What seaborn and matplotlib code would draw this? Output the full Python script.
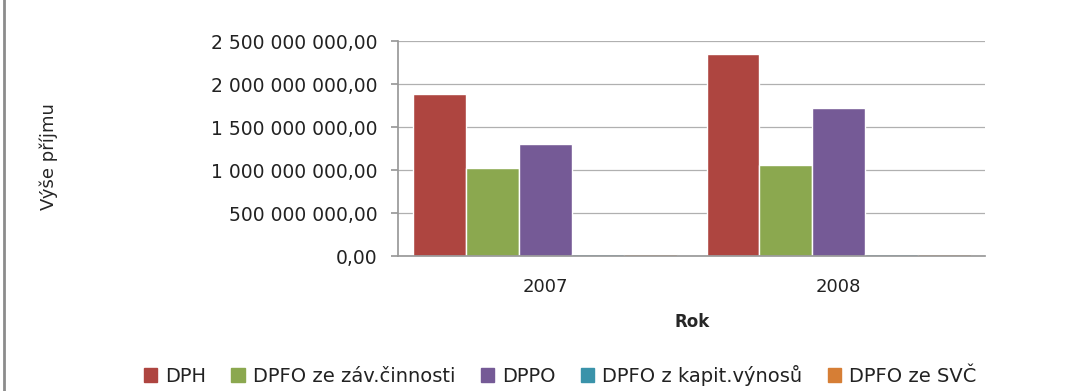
import pandas as pd
import matplotlib
matplotlib.use("Agg")
import matplotlib.pyplot as plt
import seaborn as sns
from matplotlib.ticker import FuncFormatter
from matplotlib.patches import Rectangle

# Data (values in CZK)
years = ["2007", "2008"]
dph = [1.88e9, 2.35e9]
dpfo_zav = [1.02e9, 1.06e9]
dppo = [1.30e9, 1.72e9]
dpfo_kap = [0.03e9, 0.03e9]
dpfo_svc = [0.02e9, 0.02e9]

series = ["DPH", "DPFO ze záv.činnosti", "DPPO", "DPFO z kapit.výnosů", "DPFO ze SVČ"]
colors = ["#AE4540", "#8BA84F", "#755A96", "#3A93AA", "#D67E35"]

df = pd.DataFrame({
    "Rok": years * 5,
    "Daň": sum([[s] * 2 for s in series], []),
    "Příjem": dph + dpfo_zav + dppo + dpfo_kap + dpfo_svc,
})

sns.set_theme(style="white")
plt.rcParams["font.family"] = ["DejaVu Sans"]

fig = plt.figure(figsize=(10.77, 3.91), dpi=100)
ax = fig.add_axes([0.37, 0.345, 0.545, 0.55])

sns.barplot(data=df, x="Rok", y="Příjem", hue="Daň", palette=colors,
            gap=0, width=0.9, saturation=1, ax=ax, legend=False)

def fmt(v, pos):
    return f"{v:,.2f}".replace(",", " ").replace(".", ",")

ax.set_ylim(0, 2.5e9)
ax.set_yticks([0, 0.5e9, 1e9, 1.5e9, 2e9, 2.5e9])
ax.yaxis.set_major_formatter(FuncFormatter(fmt))
ax.yaxis.grid(True, color="#B0B0B0", linewidth=0.9)
ax.set_axisbelow(True)
for s in ["top", "right"]:
    ax.spines[s].set_visible(False)
ax.spines["left"].set_color("#999999")
ax.spines["bottom"].set_color("#999999")
ax.tick_params(axis="y", labelsize=13.5, length=5, color="#999999", left=True,
               pad=10, labelcolor="#222222")
ax.tick_params(axis="x", labelsize=13, pad=10, labelcolor="#222222")
ax.set_ylabel("")
ax.set_xlabel("Rok", fontsize=12, fontweight="bold", labelpad=12)

fig.text(0.045, 0.6, "Výše příjmu", rotation=90, ha="center", va="center",
         fontsize=13)

handles = [Rectangle((0, 0), 1, 1, color=c) for c in colors]
fig.legend(handles, series, loc="center", bbox_to_anchor=(0.52, 0.04), ncol=5,
           frameon=False, fontsize=14, handlelength=0.7, handleheight=0.7,
           columnspacing=1.3, handletextpad=0.4, labelcolor="#222222")

fig.patches.append(Rectangle((0.004, -0.01), 1.1, 1.1, transform=fig.transFigure,
                             fill=False, edgecolor="#8C8C8C", linewidth=2))

fig.savefig("out.png", dpi=100)
